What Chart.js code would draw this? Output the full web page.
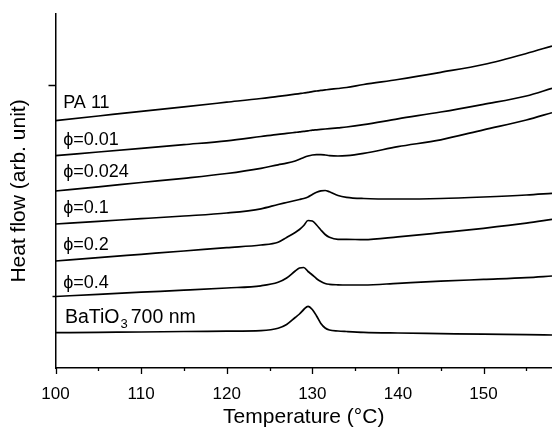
<!DOCTYPE html>
<html>
<head>
<meta charset="utf-8">
<script src="https://cdn.jsdelivr.net/npm/chart.js@4.4.0/dist/chart.umd.min.js"></script>
<style>
  html, body { margin: 0; padding: 0; background: #fff; }
</style>
</head>
<body>
<canvas id="dscChart" width="552" height="431"></canvas>
<script>
// temperatures (°C) where the curves were read
const temperatures = [100, 105, 110, 115, 120, 124, 126, 127, 128, 128.5, 129, 129.5, 130, 130.5, 131, 131.5, 132, 133, 134, 136, 140, 145, 150, 155, 158];

// heat flow, arbitrary units (curves are offset vertically)
const pa11   = [247.3, 252.0, 256.7, 261.2, 265.8, 269.5, 271.7, 272.7, 273.8, 274.4, 275.0, 275.7, 276.4, 277.0, 277.6, 278.1, 278.6, 279.5, 280.5, 283.5, 288.5, 295.7, 303.5, 314.5, 322.0];
const phi001 = [212.3, 216.0, 219.7, 223.4, 227.2, 231.5, 233.7, 234.6, 235.6, 236.1, 236.7, 237.2, 237.8, 238.2, 238.6, 239.0, 239.4, 240.2, 241.0, 243.3, 249.2, 256.0, 263.7, 272.0, 279.7];
const phi0024 = [177.0, 181.2, 185.5, 189.7, 194.5, 199.7, 203.2, 204.8, 207.0, 208.7, 210.5, 212.0, 213.0, 213.4, 213.4, 213.0, 212.4, 212.0, 212.4, 214.7, 221.3, 228.2, 238.2, 248.0, 255.3];
const phi01  = [144.0, 146.7, 149.3, 152.0, 155.0, 159.2, 163.5, 165.5, 167.5, 168.5, 169.5, 171.0, 173.5, 175.7, 177.2, 177.5, 176.2, 172.5, 170.7, 169.5, 169.0, 169.5, 171.0, 173.0, 174.7];
const phi02  = [107.0, 110.4, 113.7, 117.0, 120.4, 123.0, 125.8, 130.5, 135.5, 138.5, 142.5, 147.5, 147.0, 143.0, 138.0, 133.5, 130.7, 128.7, 128.7, 128.3, 131.1, 135.3, 139.7, 144.8, 148.7];
const phi04  = [71.5, 73.7, 75.8, 77.8, 80.0, 82.2, 85.7, 90.0, 97.0, 100.0, 100.5, 96.5, 93.0, 89.3, 86.5, 84.5, 83.7, 83.2, 83.0, 83.0, 84.7, 86.8, 88.6, 90.4, 92.0];
const batio3 = [35.3, 35.7, 36.0, 36.5, 36.8, 37.4, 39.7, 43.5, 50.5, 54.0, 58.5, 61.7, 58.5, 52.0, 44.5, 40.0, 38.0, 37.0, 36.5, 35.7, 35.0, 34.4, 33.8, 33.4, 33.0];

const seriesList = [pa11, phi001, phi0024, phi01, phi02, phi04, batio3];

// axis ticks
const xMajorTicks = [100, 110, 120, 130, 140, 150];
const xMinorTicks = [105, 115, 125, 135, 145, 155];
const yMajorTicks = [283];
const yMinorTicks = [72];

// curve names written inside the plot (anchored in data units)
const curveLabels = [
    { text: "PA 11", t: 100.9, v: 260 },
    { text: "\u03D5=0.01", t: 100.9, v: 223 },
    { text: "\u03D5=0.024", t: 100.9, v: 191 },
    { text: "\u03D5=0.1", t: 100.9, v: 155 },
    { text: "\u03D5=0.2", t: 100.9, v: 118 },
    { text: "\u03D5=0.4", t: 100.9, v: 80 },
    { text: "BaTiO", sub: "3", rest: "700 nm", t: 101.1, v: 45 }
];

const FONT = "'Liberation Sans', Arial, Helvetica, sans-serif";

// draws the small outward ticks (major and minor)
const tickMarks = {
    id: "tickMarks",
    afterDraw(chart) {
        const { ctx, chartArea, scales } = chart;
        ctx.save();
        ctx.strokeStyle = "#000";
        ctx.lineWidth = 1.3;
        ctx.beginPath();
        xMajorTicks.forEach(t => {
            const px = Math.round(scales.x.getPixelForValue(t)) + 0.5;
            ctx.moveTo(px, chartArea.bottom);
            ctx.lineTo(px, chartArea.bottom + 6);
        });
        xMinorTicks.forEach(t => {
            const px = Math.round(scales.x.getPixelForValue(t)) + 0.5;
            ctx.moveTo(px, chartArea.bottom);
            ctx.lineTo(px, chartArea.bottom + 3);
        });
        yMajorTicks.forEach(v => {
            const py = Math.round(scales.y.getPixelForValue(v)) + 0.5;
            ctx.moveTo(chartArea.left, py);
            ctx.lineTo(chartArea.left - 7, py);
        });
        yMinorTicks.forEach(v => {
            const py = Math.round(scales.y.getPixelForValue(v)) + 0.5;
            ctx.moveTo(chartArea.left, py);
            ctx.lineTo(chartArea.left - 3, py);
        });
        ctx.stroke();
        ctx.restore();
    }
};

// writes the curve names
const curveNames = {
    id: "curveNames",
    afterDatasetsDraw(chart) {
        const { ctx, scales } = chart;
        ctx.save();
        ctx.fillStyle = "#000";
        ctx.textBaseline = "alphabetic";
        ctx.textAlign = "left";
        curveLabels.forEach(lbl => {
            let x = scales.x.getPixelForValue(lbl.t);
            const y = scales.y.getPixelForValue(lbl.v);
            if (!lbl.sub) {
                ctx.font = "18px " + FONT;
                ctx.fillText(lbl.text, x, y);
                return;
            }
            // formula label: a bit larger, with subscript
            ctx.font = "19.5px " + FONT;
            ctx.fillText(lbl.text, x, y);
            x += ctx.measureText(lbl.text).width + 1;
            ctx.font = "13px " + FONT;
            ctx.fillText(lbl.sub, x, y + 5);
            x += ctx.measureText(lbl.sub).width + 3;
            ctx.font = "19.5px " + FONT;
            ctx.fillText(lbl.rest, x, y);
        });
        ctx.restore();
    }
};

function createDscChart() {
    const ctx = document.getElementById("dscChart").getContext("2d");

    window.dscChart = new Chart(ctx, {
        type: "line",
        data: {
            datasets: seriesList.map(values => ({
                data: values.map((v, i) => ({ x: temperatures[i], y: v })),
                borderColor: "#000",
                borderWidth: 1.7,
                pointRadius: 0,
                fill: false,
                cubicInterpolationMode: "monotone"
            }))
        },
        options: {
            responsive: false,
            animation: false,
            devicePixelRatio: 1,
            layout: { padding: { top: 14, left: 0, right: 0, bottom: 0 } },
            plugins: {
                legend: { display: false },
                tooltip: { enabled: false }
            },
            scales: {
                x: {
                    type: "linear",
                    min: 100,
                    max: 158,
                    afterFit: scale => {
                        scale.height = 63;
                        scale.paddingLeft = 0;
                        scale.paddingRight = 0;
                    },
                    ticks: {
                        stepSize: 5,
                        padding: 16,
                        autoSkip: false,
                        maxRotation: 0,
                        color: "#000",
                        font: { family: FONT, size: 17 },
                        callback: v => (v % 10 === 0 ? v : "")
                    },
                    grid: { display: true, drawOnChartArea: false, drawTicks: false },
                    border: { display: true, color: "#000", width: 1.5 },
                    title: {
                        display: true,
                        text: "Temperature (\u00B0C)",
                        color: "#000",
                        font: { family: FONT, size: 21, lineHeight: 1.2 },
                        padding: { top: 0, bottom: 1 }
                    }
                },
                y: {
                    min: 0,
                    max: 354,
                    afterFit: scale => { scale.width = 55.5; },
                    ticks: { display: false },
                    grid: { display: true, drawOnChartArea: false, drawTicks: false },
                    border: { display: true, color: "#000", width: 1.5 },
                    title: {
                        display: true,
                        text: "Heat flow (arb. unit)",
                        color: "#000",
                        font: { family: FONT, size: 21, lineHeight: 1.2 },
                        padding: { top: 7, bottom: 0 }
                    }
                }
            }
        },
        plugins: [tickMarks, curveNames]
    });
}

document.addEventListener("DOMContentLoaded", () => {
    createDscChart();
});
</script>
</body>
</html>
